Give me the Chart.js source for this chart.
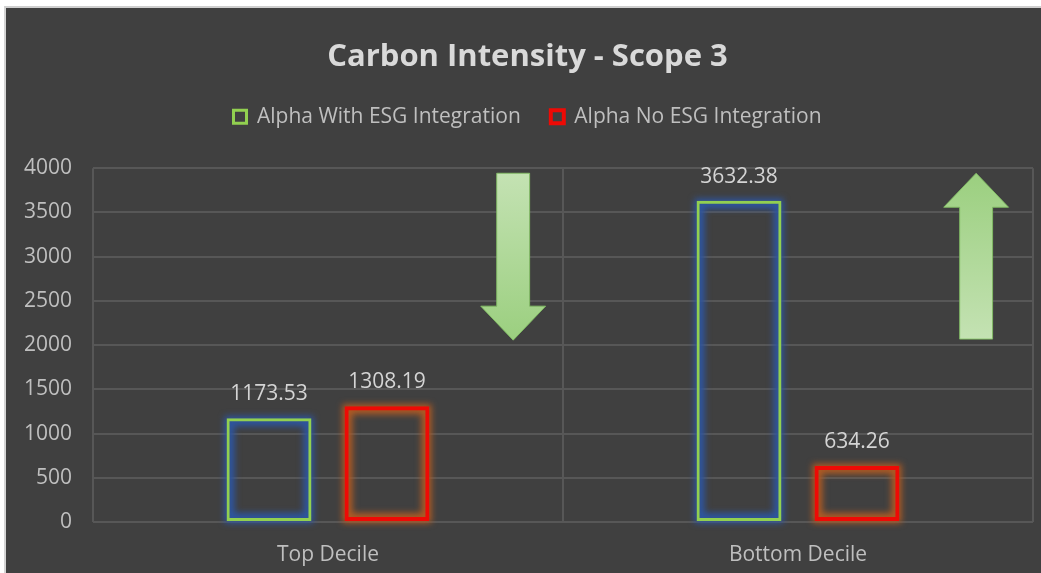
<!DOCTYPE html>
<html>
<head>
<meta charset="utf-8">
<script src="https://cdn.jsdelivr.net/npm/chart.js@4.4.1/dist/chart.umd.min.js"></script>
<style>
  html, body { margin: 0; padding: 0; background: #ffffff; }
  #frame { position: absolute; left: 4px; top: 6px; width: 1037px; height: 567px;
           border-left: 2px solid #d4d4d4; border-top: 2px solid #cfcfcf; box-sizing: border-box; background: #404040; }
  #wrap { position: absolute; left: 0; top: 0; width: 1035px; height: 565px; }
</style>
</head>
<body>
<div id="frame"><div id="wrap"><canvas id="c"></canvas></div></div>
<script>
// ---- data ----
const categories = ['Top Decile', 'Bottom Decile'];
const seriesNames = ['Alpha With ESG Integration', 'Alpha No ESG Integration'];
const withESG = [1173.53, 3632.38];
const noESG = [1308.19, 634.26];
const yMax = 4000;
const yStep = 500;
// decorative arrows (category position, value from -> to)
const arrowX = [0.394, 1.379];
const arrowFrom = [3943, 2068];
const arrowTo = [2056, 3943];

const FONT = '"Open Sans", Lato, sans-serif';

const glowPlugin = {
  id: 'glow',
  beforeDatasetsDraw(chart) {
    const ctx = chart.ctx;
    const glowColors = ['rgba(45,85,160,1)', 'rgba(175,90,35,1)'];
    chart.data.datasets.forEach((ds, di) => {
      const meta = chart.getDatasetMeta(di);
      meta.data.forEach(el => {
        const p = el.getProps(['x', 'y', 'base', 'width'], true);
        const l = p.x - p.width / 2, t = Math.min(p.y, p.base), h = Math.abs(p.base - p.y);
        ctx.save();
        ctx.filter = 'blur(3px)';
        ctx.strokeStyle = glowColors[di];
        ctx.lineWidth = 10;
        ctx.strokeRect(l + 3, t + 3, p.width - 6, h - 6);
        ctx.restore();
      });
    });
  }
};

const arrowPlugin = {
  id: 'arrows',
  beforeDatasetsDraw(chart) {
    const ctx = chart.ctx;
    const xs = chart.scales.x, ys = chart.scales.y;
    const catW = xs.getPixelForValue(1) - xs.getPixelForValue(0);
    const shaftW = catW * 0.070, headW = catW * 0.138;
    arrowX.forEach((ax, i) => {
      const cx = xs.getPixelForValue(ax);
      const y0 = ys.getPixelForValue(arrowFrom[i]);
      const y1 = ys.getPixelForValue(arrowTo[i]);
      const dir = y1 > y0 ? 1 : -1;
      const headLen = 34;
      const yb = y1 - dir * headLen;
      const g = ctx.createLinearGradient(0, y0, 0, y1);
      g.addColorStop(0, '#c4e2b3');
      g.addColorStop(1, '#9bcf7f');
      ctx.save();
      ctx.beginPath();
      ctx.moveTo(cx - shaftW / 2, y0);
      ctx.lineTo(cx + shaftW / 2, y0);
      ctx.lineTo(cx + shaftW / 2, yb);
      ctx.lineTo(cx + headW / 2, yb);
      ctx.lineTo(cx, y1);
      ctx.lineTo(cx - headW / 2, yb);
      ctx.lineTo(cx - shaftW / 2, yb);
      ctx.closePath();
      ctx.fillStyle = g;
      ctx.fill();
      ctx.strokeStyle = 'rgba(130,190,100,0.9)';
      ctx.lineWidth = 1;
      ctx.stroke();
      ctx.restore();
    });
  }
};

const valueLabelPlugin = {
  id: 'valueLabels',
  afterDatasetsDraw(chart) {
    const ctx = chart.ctx;
    ctx.save();
    ctx.font = '21px ' + FONT;
    ctx.fillStyle = '#d4d4d4';
    ctx.textAlign = 'center';
    ctx.textBaseline = 'middle';
    chart.data.datasets.forEach((ds, di) => {
      chart.getDatasetMeta(di).data.forEach((el, i) => {
        const p = el.getProps(['x', 'y'], true);
        ctx.fillText(ds.data[i].toFixed(2), p.x, p.y - 24);
      });
    });
    ctx.restore();
  }
};

const legendSpacer = {
  id: 'legendSpacer',
  beforeUpdate(chart) {
    const lg = chart.legend;
    if (lg && !lg._patched) {
      const orig = lg.fit.bind(lg);
      lg.fit = function () { orig(); this.height += 31; };
      lg._patched = true;
    }
  }
};

new Chart(document.getElementById('c'), {
  type: 'bar',
  data: {
    labels: categories,
    datasets: [
      { label: seriesNames[0], data: withESG, backgroundColor: 'rgba(0,0,0,0)', borderColor: '#92d050',
        borderWidth: 3, borderSkipped: false, categoryPercentage: 0.502, barPercentage: 0.72 },
      { label: seriesNames[1], data: noESG, backgroundColor: 'rgba(0,0,0,0)', borderColor: '#ee0a05',
        borderWidth: 4, borderSkipped: false, categoryPercentage: 0.502, barPercentage: 0.72 }
    ]
  },
  options: {
    responsive: true,
    maintainAspectRatio: false,
    animation: false,
    layout: { padding: { left: 16, right: 8, top: 0, bottom: 0 } },
    plugins: {
      title: { display: true, text: 'Carbon Intensity - Scope 3', color: '#d9d9d9',
               font: { family: FONT, size: 31, weight: 'bold' }, padding: { top: 31, bottom: 0 } },
      legend: { display: true, position: 'top',
                labels: { color: '#bfbfbf', font: { family: FONT, size: 21 }, boxWidth: 13, boxHeight: 13, padding: 30 } },
      tooltip: { enabled: false }
    },
    scales: {
      x: {
        grid: { display: true, offset: true, color: '#575757', lineWidth: 2, drawTicks: false },
        border: { display: false },
        ticks: { color: '#bfbfbf', font: { family: FONT, size: 21 }, padding: 20 },
        afterFit(s) { s.height = 51; }
      },
      y: {
        min: 0, max: yMax,
        grid: { color: '#575757', lineWidth: 2, drawTicks: false },
        border: { display: false },
        ticks: { stepSize: yStep, color: '#bfbfbf', font: { family: FONT, size: 21 }, padding: 21,
                 callback: v => String(v) },
        afterFit(s) { s.width = 71; }
      }
    }
  },
  plugins: [legendSpacer, glowPlugin, arrowPlugin, valueLabelPlugin]
});
</script>
</body>
</html>
